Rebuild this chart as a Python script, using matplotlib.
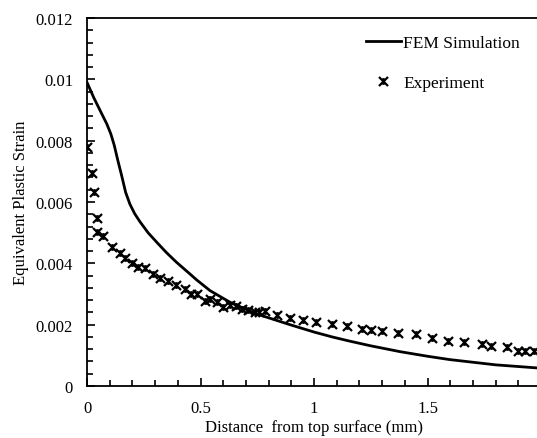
import matplotlib
matplotlib.use("Agg")
import matplotlib.pyplot as plt
from matplotlib.path import Path
from matplotlib.ticker import MultipleLocator, FixedLocator, FuncFormatter

# FEM simulation curve (distance in mm, strain x1e-3)
fem_x = [0, 0.03, 0.06, 0.087, 0.105, 0.12, 0.135, 0.153, 0.17, 0.189, 0.21, 0.233,
         0.27, 0.307, 0.35, 0.395, 0.454, 0.483, 0.542, 0.63, 0.747, 0.894, 1.0,
         1.08, 1.159, 1.25, 1.379, 1.5, 1.599, 1.8, 2.0]
fem_y = [9.9, 9.4, 8.95, 8.55, 8.22, 7.85, 7.38, 6.85, 6.32, 5.93, 5.62, 5.36,
         4.99, 4.69, 4.35, 4.03, 3.65, 3.46, 3.11, 2.73, 2.35, 2.00, 1.76,
         1.60, 1.46, 1.31, 1.12, 0.97, 0.86, 0.69, 0.58]

# Experimental points (distance in mm, strain x1e-3)
exp_x = [0.0, 0.02, 0.03, 0.045, 0.045, 0.069, 0.108, 0.145, 0.167, 0.20, 0.224,
         0.255, 0.289, 0.322, 0.355, 0.39, 0.43, 0.46, 0.483, 0.52, 0.544, 0.572,
         0.60, 0.632, 0.655, 0.684, 0.71, 0.74, 0.757, 0.782, 0.838, 0.894, 0.95,
         1.008, 1.078, 1.147, 1.21, 1.25, 1.30, 1.37, 1.45, 1.52, 1.59, 1.66, 1.74,
         1.78, 1.85, 1.90, 1.93, 1.97]
exp_y = [7.78, 6.94, 6.31, 5.47, 5.03, 4.88, 4.54, 4.34, 4.16, 4.02, 3.87,
         3.86, 3.65, 3.52, 3.43, 3.29, 3.15, 3.01, 3.00, 2.76, 2.83, 2.75,
         2.59, 2.65, 2.61, 2.52, 2.49, 2.42, 2.41, 2.45, 2.33, 2.22, 2.15,
         2.08, 2.02, 1.97, 1.86, 1.84, 1.78, 1.73, 1.68, 1.55, 1.48, 1.42, 1.37,
         1.31, 1.26, 1.15, 1.15, 1.15]

x_ticks = [0, 0.5, 1, 1.5]
y_ticks = [0, 0.002, 0.004, 0.006, 0.008, 0.01, 0.012]

plt.rcParams['font.family'] = ['Liberation Serif', 'DejaVu Serif']
plt.rcParams['font.size'] = 12

W, H = 537, 439
fig = plt.figure(figsize=(W / 100, H / 100), dpi=100)
ax = fig.add_axes([87 / W, (H - 387) / H, (541 - 87) / W, (387 - 19) / H])

star = Path([(-1, -1), (1, 1), (-1, 1), (1, -1), (0, -0.75), (0, 0.75)],
            [Path.MOVETO, Path.LINETO, Path.MOVETO, Path.LINETO, Path.MOVETO, Path.LINETO])

ax.plot(fem_x, [v * 1e-3 for v in fem_y], color='black', lw=2.0, label='FEM Simulation',
        solid_joinstyle='round')
ax.plot(exp_x, [v * 1e-3 for v in exp_y], linestyle='none', marker=star, markersize=6.5,
        markeredgewidth=1.6, color='black', label='Experiment')

ax.set_xlim(0, 2)
ax.set_ylim(0, 0.012)
ax.xaxis.set_major_locator(FixedLocator(x_ticks))
ax.xaxis.set_minor_locator(MultipleLocator(0.1))
ax.yaxis.set_major_locator(FixedLocator(y_ticks))
ax.yaxis.set_minor_locator(MultipleLocator(0.0004))
ax.xaxis.set_major_formatter(FuncFormatter(lambda v, p: '%g' % v))
ax.yaxis.set_major_formatter(FuncFormatter(lambda v, p: '%g' % round(v, 4)))

ax.tick_params(which='both', direction='in', width=1.2, top=False, right=False)
ax.tick_params(which='major', length=6, labelsize=12, pad=10)
ax.tick_params(which='minor', length=4)
for s in ax.spines.values():
    s.set_linewidth(1.3)

ax.set_xlabel('Distance  from top surface (mm)', fontsize=12, labelpad=2)
ax.set_ylabel('Equivalent Plastic Strain', fontsize=12, labelpad=5)

leg = ax.legend(loc='upper left', bbox_to_anchor=(366 / W, 1 - 36 / H),
                bbox_transform=fig.transFigure, frameon=False, borderpad=0,
                handlelength=2.0, handletextpad=0.15, labelspacing=1.35,
                fontsize=12.5, borderaxespad=0)

fig.savefig('out.png', dpi=100)
